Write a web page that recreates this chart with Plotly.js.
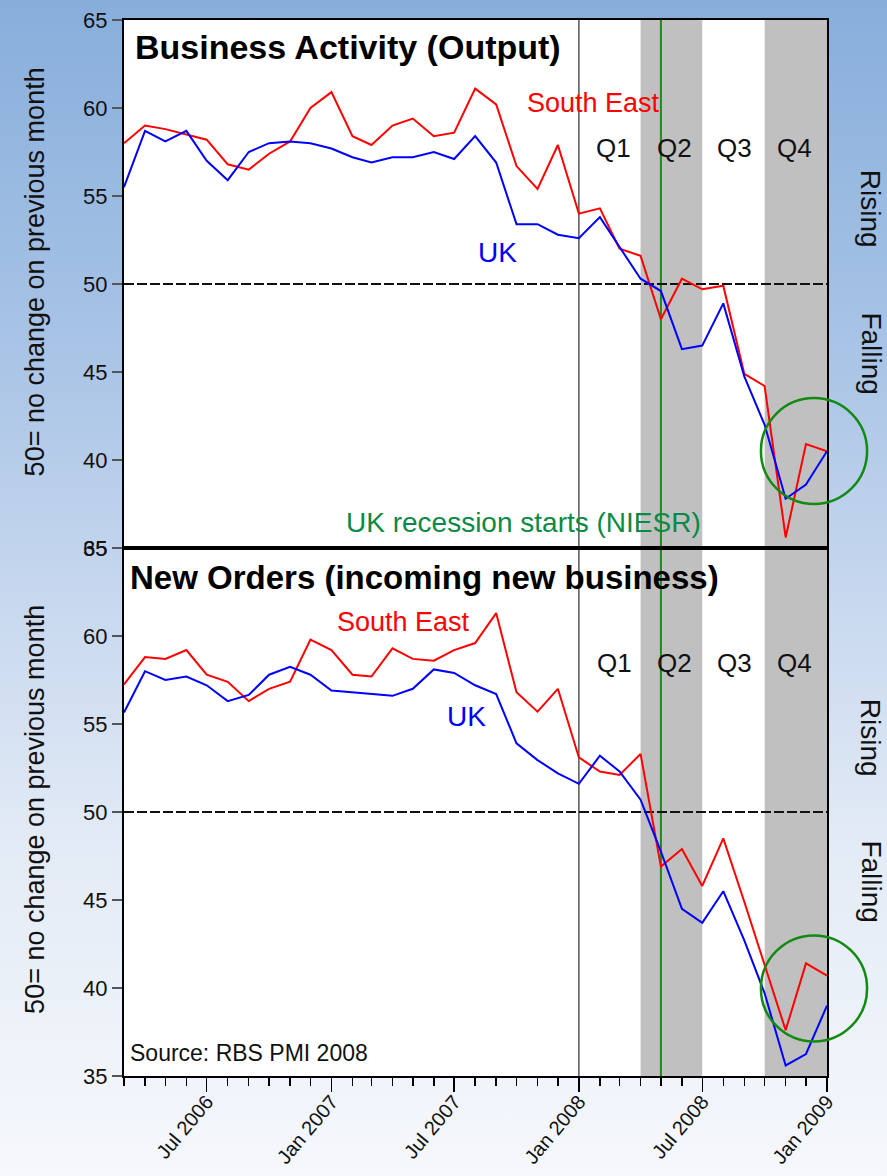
<!DOCTYPE html>
<html>
<head>
<meta charset="utf-8">
<script src="https://cdn.plot.ly/plotly-3.0.1.min.js"></script>
<style>
html,body{margin:0;padding:0;}
body{width:887px;height:1176px;background:linear-gradient(to bottom,#87aedb 0%,#a9c4e6 30%,#c6d7ee 50%,#e3ebf6 72%,#f6f8fc 100%);}
#chart{width:887px;height:1176px;}
</style>
</head>
<body>
<div id="chart"></div>
<script>
// Months (Mar 2006 - Jan 2009)
var months = ["2006-03-01","2006-04-01","2006-05-01","2006-06-01","2006-07-01","2006-08-01","2006-09-01","2006-10-01","2006-11-01","2006-12-01",
"2007-01-01","2007-02-01","2007-03-01","2007-04-01","2007-05-01","2007-06-01","2007-07-01","2007-08-01","2007-09-01","2007-10-01","2007-11-01","2007-12-01",
"2008-01-01","2008-02-01","2008-03-01","2008-04-01","2008-05-01","2008-06-01","2008-07-01","2008-08-01","2008-09-01","2008-10-01","2008-11-01","2008-12-01",
"2009-01-01"];

// Business Activity (Output)
var activitySE = [58.0,59.0,58.8,58.5,58.2,56.8,56.5,57.4,58.1,60.0,
60.9,58.4,57.9,59.0,59.4,58.4,58.6,61.1,60.2,56.7,55.4,57.9,
54.0,54.3,52.0,51.6,48.0,50.3,49.7,49.9,44.9,44.2,35.6,40.9,
40.5];
var activityUK = [55.5,58.7,58.1,58.7,57.0,55.9,57.5,58.0,58.1,58.0,
57.7,57.2,56.9,57.2,57.2,57.5,57.1,58.4,56.9,53.4,53.4,52.8,
52.6,53.8,52.1,50.3,49.6,46.3,46.5,48.9,44.75,42.0,37.8,38.6,
40.5];

// New Orders (incoming new business)
var ordersSE = [57.25,58.8,58.7,59.2,57.8,57.4,56.3,57.0,57.4,59.8,
59.2,57.8,57.7,59.3,58.7,58.6,59.2,59.6,61.3,56.8,55.7,57.0,
53.1,52.3,52.1,53.3,46.9,47.9,45.8,48.5,44.9,41.25,37.6,41.4,
40.7];
var ordersUK = [55.65,58.0,57.5,57.7,57.2,56.3,56.65,57.8,58.25,57.8,
56.9,56.8,56.7,56.6,57.0,58.1,57.9,57.2,56.7,53.9,52.95,52.2,
51.6,53.2,52.3,50.7,47.75,44.5,43.7,45.5,42.7,39.7,35.6,36.25,
39.0];

var xRange = ["2006-03-01","2009-01-01"];
var yRange = [35,65];
var quarterBands = [["2008-04-01","2008-07-01"],["2008-10-01","2009-01-01"]];
var recessionStart = "2008-05-01";
var yearStart = "2008-01-01";
var noChange = 50;

var FONT = "Liberation Sans, Arial, sans-serif";
var RED = "#ff0000", BLUE = "#0000ff";

var traces = [
  {x: months, y: activitySE, xaxis:'x', yaxis:'y', mode:'lines', line:{color:RED,width:2}, hoverinfo:'skip'},
  {x: months, y: activityUK, xaxis:'x', yaxis:'y', mode:'lines', line:{color:BLUE,width:2}, hoverinfo:'skip'},
  {x: months, y: ordersSE, xaxis:'x2', yaxis:'y2', mode:'lines', line:{color:RED,width:2}, hoverinfo:'skip'},
  {x: months, y: ordersUK, xaxis:'x2', yaxis:'y2', mode:'lines', line:{color:BLUE,width:2}, hoverinfo:'skip'}
];

var shapes = [];
[['x','y'],['x2','y2']].forEach(function(p){
  quarterBands.forEach(function(b){
    shapes.push({type:'rect', xref:p[0], yref:p[1]+' domain', x0:b[0], x1:b[1], y0:0, y1:1,
      fillcolor:'#c0c0c0', line:{width:0}, layer:'below'});
  });
  shapes.push({type:'line', xref:p[0], yref:p[1]+' domain', x0:yearStart, x1:yearStart, y0:0, y1:1,
    line:{color:'#555555', width:1.5}, layer:'below'});
  shapes.push({type:'line', xref:p[0], yref:p[1]+' domain', x0:recessionStart, x1:recessionStart, y0:0, y1:1,
    line:{color:'#1a8c1a', width:2}, layer:'below'});
  shapes.push({type:'line', xref:p[0]+' domain', yref:p[1], x0:0, x1:1, y0:noChange, y1:noChange,
    line:{color:'#111111', width:2, dash:'10px,3px'}, layer:'below'});
});
// green circles
shapes.push({type:'circle', xref:'paper', yref:'paper', x0:0.906, x1:1.057, y0:0.5417, y1:0.642,
  line:{color:'#138a13', width:2.5}, fillcolor:'rgba(0,0,0,0)'});
shapes.push({type:'circle', xref:'paper', yref:'paper', x0:0.906, x1:1.057, y0:0.0327, y1:0.1331,
  line:{color:'#138a13', width:2.5}, fillcolor:'rgba(0,0,0,0)'});

function ann(text, x, y, opts){
  var a = {text:text, x:x, y:y, xref:'paper', yref:'paper', showarrow:false,
    xanchor:'center', yanchor:'middle', font:{family:FONT, size:26, color:'#111111'}};
  for (var k in opts){ if (k==='font'){ for (var f in opts.font) a.font[f]=opts.font[f]; } else a[k]=opts[k]; }
  return a;
}

var annotations = [
  ann('<b>Business Activity (Output)</b>', 0.0128, 0.9744, {xanchor:'left', font:{size:34, color:'#000'}}),
  ann('<b>New Orders (incoming new business)</b>', 0.0057, 0.4725, {xanchor:'left', font:{size:33, color:'#000'}}),
  ann('South East', 0.570, 0.9214, {xanchor:'left', font:{size:27, color:RED}}),
  ann('South East', 0.300, 0.4299, {xanchor:'left', font:{size:27, color:RED}}),
  ann('UK', 0.5007, 0.7803, {xanchor:'left', font:{size:28, color:BLUE}}),
  ann('UK', 0.4566, 0.3409, {xanchor:'left', font:{size:28, color:BLUE}}),
  ann('Q1', 0.696, 0.8788, {font:{size:26}}),
  ann('Q2', 0.783, 0.8788, {font:{size:26}}),
  ann('Q3', 0.868, 0.8788, {font:{size:26}}),
  ann('Q4', 0.954, 0.8788, {font:{size:26}}),
  ann('Q1', 0.698, 0.3911, {font:{size:26}}),
  ann('Q2', 0.783, 0.3911, {font:{size:26}}),
  ann('Q3', 0.868, 0.3911, {font:{size:26}}),
  ann('Q4', 0.954, 0.3911, {font:{size:26}}),
  ann('UK recession starts (NIESR)', 0.5680, 0.5237, {font:{size:28, color:'#0a8a44'}}),
  ann('Source: RBS PMI 2008', 0.0057, 0.0218, {xanchor:'left', font:{size:23, color:'#111'}}),
  ann('Rising', 1.063, 0.821, {textangle:90, font:{size:28}}),
  ann('Falling', 1.063, 0.684, {textangle:90, font:{size:28}}),
  ann('Rising', 1.063, 0.320, {textangle:90, font:{size:28}}),
  ann('Falling', 1.063, 0.184, {textangle:90, font:{size:28}}),
  ann('50= no change on previous month', -0.1266, 0.761, {textangle:-90, font:{size:27}}),
  ann('50= no change on previous month', -0.1266, 0.252, {textangle:-90, font:{size:27}})
];

var yCommon = {range:yRange, dtick:5, tick0:35, ticks:'outside', ticklen:10, tickwidth:2, tickcolor:'#555555',
  showline:true, linecolor:'#000', linewidth:2, mirror:true, showgrid:false, zeroline:false,
  tickfont:{family:FONT, size:22, color:'#111'}, fixedrange:true};

var layout = {
  width:887, height:1176,
  margin:{l:124, r:60, t:20, b:100},
  paper_bgcolor:'rgba(0,0,0,0)', plot_bgcolor:'#ffffff',
  showlegend:false,
  font:{family:FONT},
  xaxis:{domain:[0,1], anchor:'y', type:'date', range:xRange, showticklabels:false, ticks:'',
    showline:true, linecolor:'#000', linewidth:2, mirror:true, showgrid:false, zeroline:false},
  yaxis:Object.assign({domain:[0.5,1], anchor:'x'}, yCommon),
  xaxis2:{domain:[0,1], anchor:'y2', type:'date', range:xRange, tick0:'2006-01-01', dtick:'M6',
    tickformat:'%b %Y', tickangle:-50, ticks:'outside', ticklen:14, tickwidth:1.5, tickcolor:'#000',
    ticklabelstandoff:-10,
    minor:{dtick:'M1', ticks:'outside', ticklen:8, tickwidth:1.5, tickcolor:'#000', showgrid:false},
    tickfont:{family:FONT, size:20, color:'#111'},
    showline:true, linecolor:'#000', linewidth:2, mirror:true, showgrid:false, zeroline:false},
  yaxis2:Object.assign({domain:[0,0.5], anchor:'x2'}, yCommon),
  shapes:shapes,
  annotations:annotations
};

Plotly.newPlot('chart', traces, layout, {staticPlot:true, displayModeBar:false});
</script>
</body>
</html>
